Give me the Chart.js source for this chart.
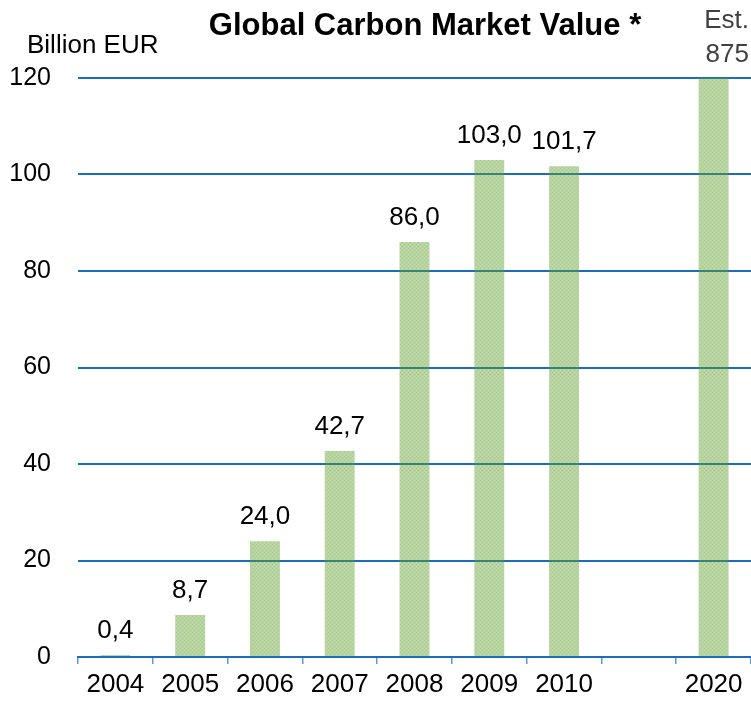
<!DOCTYPE html>
<html>
<head>
<meta charset="utf-8">
<script src="https://cdn.jsdelivr.net/npm/chart.js@4.4.1/dist/chart.umd.min.js"></script>
<style>
html,body{margin:0;padding:0;background:#fff;}
#wrap{width:751px;height:701px;position:relative;}
</style>
</head>
<body>
<div id="wrap"><canvas id="c" width="751" height="701"></canvas></div>
<script>
const categories = ['2004','2005','2006','2007','2008','2009','2010','','2020'];
const values = [0.4, 8.7, 24.0, 42.7, 86.0, 103.0, 101.7, null, 875];
const estimateIndex = 8;
const yTicks = [0, 20, 40, 60, 80, 100, 120];
const titleText = 'Global Carbon Market Value *';
const unitText = 'Billion EUR';
const estText = 'Est.';

const FONT = '"Liberation Sans", Arial, sans-serif';

function makePattern(){
  const p = document.createElement('canvas');
  p.width = 4; p.height = 4;
  const g = p.getContext('2d');
  g.fillStyle = 'rgba(93,157,44,0.45)';
  g.fillRect(0,0,4,4);
  g.clearRect(0,0,1,1); g.clearRect(2,2,1,1);
  g.fillStyle = 'rgba(93,157,44,0.52)';
  g.fillRect(0,0,1,1); g.fillRect(2,2,1,1);
  g.clearRect(2,0,1,1); g.clearRect(0,2,1,1);
  g.fillStyle = 'rgba(93,157,44,0.38)';
  g.fillRect(2,0,1,1); g.fillRect(0,2,1,1);
  return g.createPattern(p,'repeat');
}

const fmt = v => v.toFixed(1).replace('.', ',');

const overlay = {
  id: 'overlay',
  afterDatasetsDraw(chart){
    const ctx = chart.ctx;
    const meta = chart.getDatasetMeta(0);
    ctx.save();
    ctx.fillStyle = '#000';
    ctx.font = '26px ' + FONT;
    ctx.textAlign = 'center';
    ctx.textBaseline = 'alphabetic';
    values.forEach((v,i) => {
      if (v === null || i === estimateIndex) return;
      const el = meta.data[i];
      ctx.fillText(fmt(v), el.x, el.y - 17);
    });
    // title
    ctx.font = 'bold 31px ' + FONT;
    ctx.fillText(titleText, 425, 35);
    // unit
    ctx.font = '26px ' + FONT;
    ctx.textAlign = 'left';
    ctx.fillText(unitText, 27, 53);
    // estimate
    ctx.fillStyle = '#404040';
    ctx.textAlign = 'right';
    ctx.fillText(estText, 749, 28);
    ctx.fillText(String(values[estimateIndex]), 749, 62);
    ctx.restore();
  }
};

new Chart(document.getElementById('c'), {
  type: 'bar',
  data: {
    labels: categories,
    datasets: [{
      data: values,
      backgroundColor: makePattern(),
      borderWidth: 0,
      barPercentage: 0.4,
      categoryPercentage: 1.0
    }]
  },
  options: {
    responsive: false,
    animation: false,
    events: [],
    layout: { padding: { top: 78, right: 0, left: 0, bottom: 0 } },
    plugins: { legend: { display: false }, tooltip: { enabled: false }, title: { display: false } },
    scales: {
      x: {
        offset: true,
        grid: { display: true, drawOnChartArea: false, drawTicks: true, tickLength: 7, color: '#5b9bd5', lineWidth: 1.5, offset: true },
        border: { display: true, color: '#1a6fb8', width: 2 },
        ticks: { color: '#000', font: { family: FONT, size: 26 }, padding: 5, maxRotation: 0, autoSkip: false },
        afterFit(s){ s.height = 44; }
      },
      y: {
        min: 0, max: 120,
        afterBuildTicks(s){ s.ticks = yTicks.map(v => ({ value: v })); },
        grid: { color: '#1a6fb8', lineWidth: 2, drawTicks: false },
        border: { display: false },
        ticks: { color: '#000', font: { family: FONT, size: 25 }, padding: 27 },
        afterFit(s){ s.width = 78; }
      }
    }
  },
  plugins: [overlay]
});
</script>
</body>
</html>
